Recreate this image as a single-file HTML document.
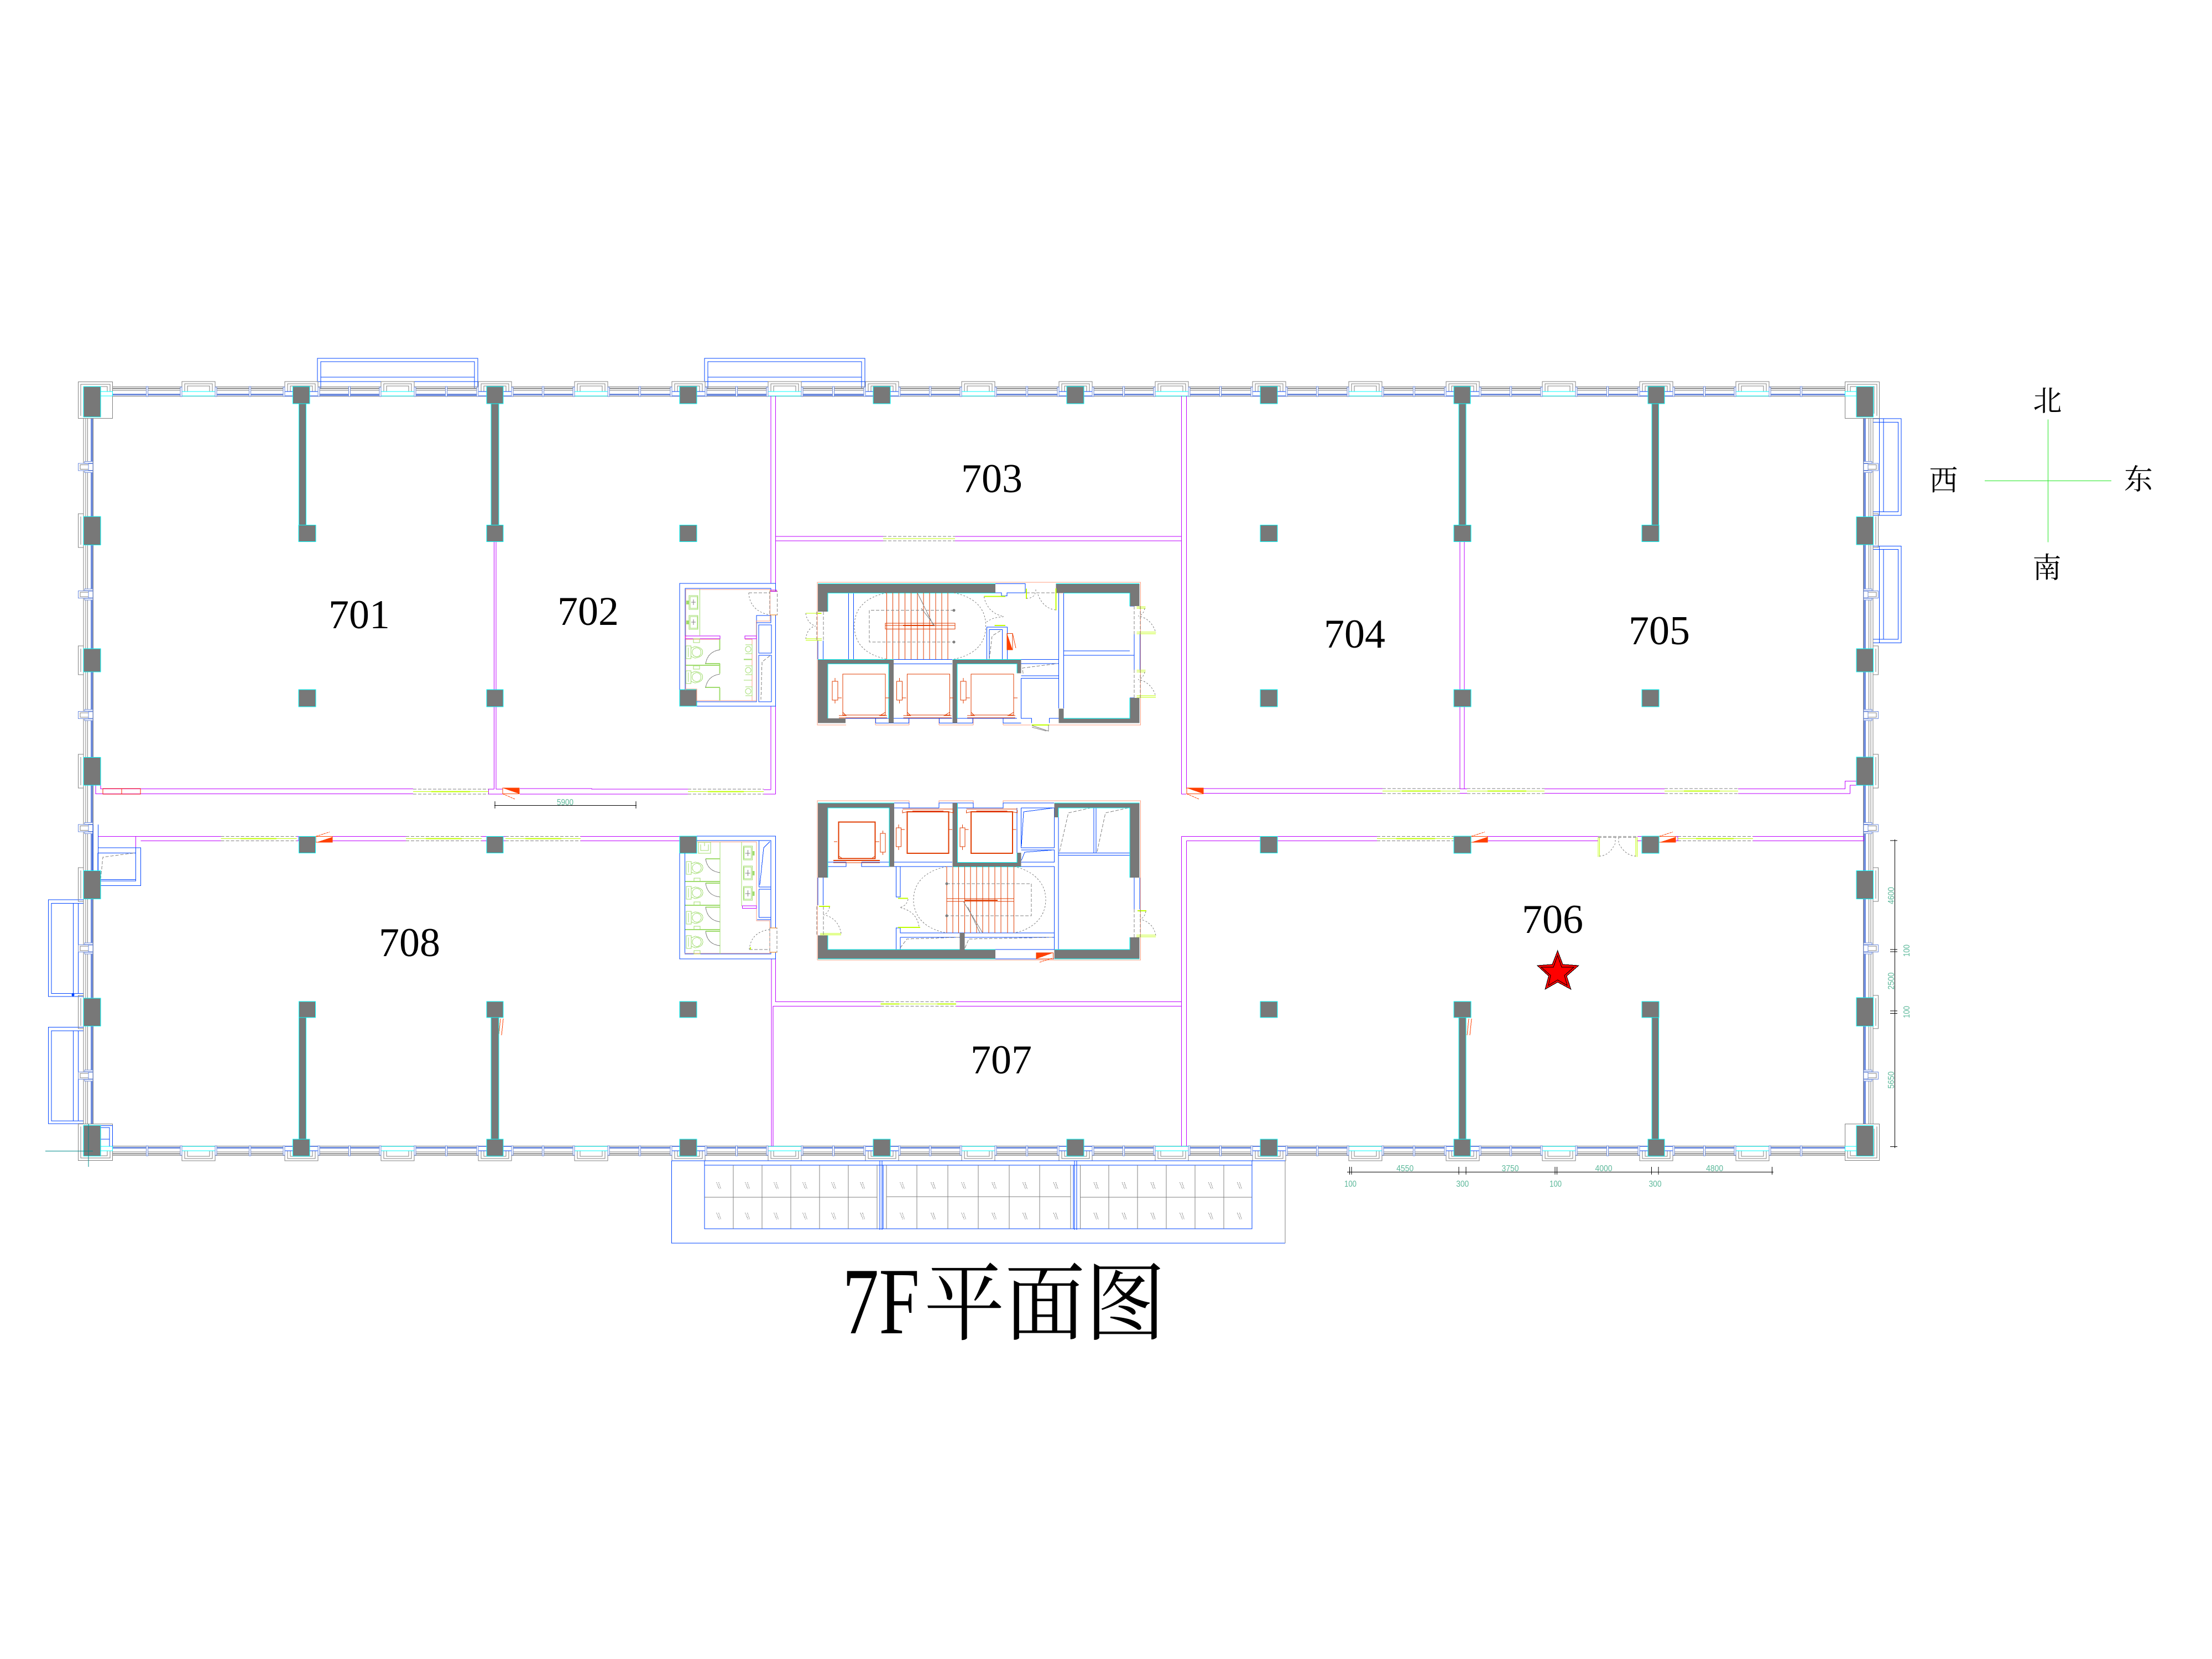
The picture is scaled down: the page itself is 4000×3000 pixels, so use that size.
<!DOCTYPE html>
<html lang="zh"><head><meta charset="utf-8"><title>7F平面图</title>
<style>
html,body{margin:0;padding:0;background:#fff}
svg{display:block;shape-rendering:crispEdges}
.g{stroke:#808080;fill:none;stroke-width:1}
.gf{stroke:#808080;fill:#fff;stroke-width:1}
.b{stroke:#0044ff;fill:none;stroke-width:1}
.bf{stroke:#0044ff;fill:#fff;stroke-width:1}
.t{stroke:#0044ff;fill:none;stroke-width:1}
.m{stroke:#bf00ff;fill:none;stroke-width:1}
.s{stroke:#ff9f80;fill:none;stroke-width:1}
.o{stroke:#e03c00;fill:none;stroke-width:1}
.ot{stroke:#e03c00;fill:none;stroke-width:1}
.l{stroke:#bfff00;fill:none;stroke-width:1}
.lt{stroke:#bfff00;fill:none;stroke-width:2}
.p{stroke:#a0dc6e;fill:none;stroke-width:1}
.pt{stroke:#a0dc6e;fill:none;stroke-width:2}
.d{stroke:#808080;fill:none;stroke-width:1;stroke-dasharray:6 3}
.dd{stroke:#808080;fill:none;stroke-width:1;stroke-dasharray:3 3}
.w{fill:#787878;stroke:#00ffff;stroke-width:1}
.n{fill:#787878;stroke:none}
.c{fill:#fff;stroke:#00ffff;stroke-width:1}
.k{stroke:#000;stroke-width:1;fill:none}
.th{stroke-width:2}
.lb{font-family:"Liberation Serif","Noto Serif CJK SC",serif;font-size:74px;fill:#000}
.cj{font-family:"Liberation Serif","Noto Serif CJK SC",serif;font-size:52px;fill:#000;text-anchor:middle}
.dm{font-family:"Liberation Sans",sans-serif;font-size:16px;fill:#5cb89a;text-anchor:middle}
</style></head><body>
<svg xmlns="http://www.w3.org/2000/svg" width="4000" height="3000" viewBox="0 0 4000 3000">
<defs>
<g id="mu"><rect x="-1.5" y="699" width="3" height="18" fill="#fff" stroke="#6f8cdc" stroke-width="1"/></g>
<g id="pm"><rect x="-30" y="690" width="60" height="26" class="gf"/><path class="g" d="M-25 708V694H25V708M-20 708V698H20V708"/><rect x="-30" y="708" width="60" height="8" class="c"/><rect x="-33" y="700" width="3" height="17" fill="#fff" stroke="#6f8cdc" stroke-width="1"/><rect x="30" y="700" width="3" height="17" fill="#fff" stroke="#6f8cdc" stroke-width="1"/></g>
<g id="pc"><rect x="-30" y="690" width="60" height="26" class="gf"/><path class="g" d="M-25 708V694H25V708M-20 708V698H20V708"/><rect x="-30" y="708" width="60" height="8" class="bf"/><rect x="-33" y="700" width="3" height="17" fill="#fff" stroke="#6f8cdc" stroke-width="1"/><rect x="30" y="700" width="3" height="17" fill="#fff" stroke="#6f8cdc" stroke-width="1"/></g>
<g id="hband">
<path class="g" d="M204 699.5H3336M204 706H3336M204 716.5H3336"/>
<path class="g th" d="M204 702.5H3336"/>
<path d="M204 713.5H3336" stroke="#6f8cdc" stroke-width="3" fill="none"/>
<use href="#mu" x="266"/><use href="#mu" x="452"/><use href="#mu" x="632"/><use href="#mu" x="807"/><use href="#mu" x="982"/><use href="#mu" x="1157"/><use href="#mu" x="1332"/><use href="#mu" x="1507"/><use href="#mu" x="1682"/><use href="#mu" x="1857"/><use href="#mu" x="2032"/><use href="#mu" x="2207"/><use href="#mu" x="2382"/><use href="#mu" x="2557"/><use href="#mu" x="2732"/><use href="#mu" x="2907"/><use href="#mu" x="3082"/><use href="#mu" x="3257"/>
<use href="#pm" x="359"/><use href="#pc" x="545"/><use href="#pm" x="719"/><use href="#pc" x="895"/><use href="#pm" x="1069"/><use href="#pc" x="1245"/><use href="#pm" x="1419"/><use href="#pc" x="1595"/><use href="#pm" x="1769"/><use href="#pc" x="1945"/><use href="#pm" x="2119"/><use href="#pc" x="2295"/><use href="#pm" x="2469"/><use href="#pc" x="2645"/><use href="#pm" x="2819"/><use href="#pc" x="2995"/><use href="#pm" x="3169"/>
</g>
<g id="sm"><rect x="141.5" y="-6.5" width="26.5" height="13" fill="#fff" stroke="#6f8cdc" stroke-width="1"/><rect x="145" y="-4" width="15" height="8" class="g"/><rect x="160" y="-6" width="8" height="12" fill="#fff" stroke="#6f8cdc" stroke-width="1"/><rect x="153" y="-10" width="15" height="3" fill="#fff" stroke="#6f8cdc" stroke-width="1"/><rect x="153" y="7" width="15" height="3" fill="#fff" stroke="#6f8cdc" stroke-width="1"/></g>
<g id="vband">
<path class="g" d="M151 756V2035M155 756V2035M158.6 756V2035M168.5 756V2035"/>
<path d="M166 756V2035" stroke="#6f8cdc" stroke-width="3.6" fill="none"/>
<use href="#sm" y="844.5"/><use href="#sm" y="1075"/><use href="#sm" y="1293"/><use href="#sm" y="1497.5"/><use href="#sm" y="1715"/><use href="#sm" y="1945"/>
<path class="g" d="M151 929H141.5V990H151M146 934V985M151 1168H141.5V1220H151M146 1173V1215M151 1364H141.5V1425H151M146 1369V1420M151 1569H141.5V1630H151M146 1574V1625M151 1800H141.5V1860H151M146 1805V1855"/>
</g>
<g id="corner"><rect x="141.5" y="690.5" width="62" height="66" class="gf"/><path class="g" d="M146 752V695H199V708M151 748V699H194V708"/><rect x="182" y="708" width="21.5" height="8" class="c"/></g>
<g id="wedgeU"><rect x="0" y="0" width="30" height="10.5" fill="#fff" stroke="#ff4000" stroke-width="1"/><polygon points="0,11 30,1 30,11" fill="#ff4000"/><path d="M0 0L25-8" stroke="#ff4000" stroke-width="1" stroke-dasharray="4 1" fill="none"/></g>
<g id="wedgeD"><rect x="0" y="0" width="30" height="10.5" fill="#fff" stroke="#ff4000" stroke-width="1"/><polygon points="0,0 30,0 30,10.5" fill="#ff4000"/><path d="M0 10.5L22 20" stroke="#ff4000" stroke-width="1" stroke-dasharray="4 1" fill="none"/></g>
<g id="elT">
<rect x="1524" y="1219" width="77" height="74" class="o"/><path class="o" d="M1517 1298H1604M1517 1294H1530L1524 1288M1604 1294H1591L1601 1288"/><rect x="1505" y="1232" width="10" height="34" class="ot"/><path class="o" d="M1510 1226V1232M1510 1266V1272M1515 1262H1522M1601 1262H1608"/>
</g>
<g id="elB">
<rect x="1640.5" y="1468" width="75" height="75" class="o th"/><path class="o" d="M1632 1463H1724M1640 1468L1632 1470V1465M1715 1468L1724 1470V1465"/><path class="o th" d="M1650 1467H1706"/><rect x="1620.7" y="1497" width="9" height="34" class="ot"/><path class="o" d="M1625 1491V1497M1625 1531V1537M1630 1500H1636M1716 1500H1722"/>
</g>
<g id="toi"><rect x="0" y="0" width="9" height="23" class="p"/><path class="p" d="M4 3V20M9 4L16 1Q30 3 30 11Q30 20 16 22L9 19Z"/><ellipse cx="19" cy="11.5" rx="8" ry="8" class="p"/></g>
<g id="sink"><rect x="0" y="0" width="16" height="25" class="p"/><rect x="2" y="2" width="13" height="21" class="p"/><path class="g" d="M4 12H12M8 7V17"/><rect x="-5" y="9" width="5" height="7" fill="#a0dc6e"/></g>
<g id="sinkR"><rect x="0" y="0" width="16" height="25" class="p"/><rect x="1" y="2" width="13" height="21" class="p"/><path class="g" d="M3 13H12M8 7V18"/><rect x="16" y="9" width="4" height="8" fill="#a0dc6e"/></g>
<g id="uri"><circle cx="0" cy="0" r="5" class="p"/><path class="p" d="M-5-8H7V8H-5"/></g>
<g id="hm"><path stroke="#808080" stroke-width="1" fill="none" d="M-3-6L2 6M1-6L5 6" stroke-dasharray="2 1"/></g>
</defs>
<rect width="4000" height="3000" fill="#fff"/>

<!-- balconies -->
<g>
<rect x="574" y="648" width="290" height="68" class="b"/><path class="b" d="M580 703V654H858V703M580 682H858M574 690H864"/>
<rect x="1274" y="648" width="290" height="68" class="b"/><path class="b" d="M1280 703V654H1558V703M1280 682H1558M1274 690H1564"/>
<path class="b" d="M3387 757H3438V932H3387M3387 763.5H3432.6V925.5H3387M3398.6 757V932M3406 757V925.5"/>
<path class="b" d="M3387 987.6H3438V1162.6H3387M3387 993.4H3432.6V1156H3387M3398.6 987.6V1162.6M3406 993.4V1156"/>
<path class="b" d="M151 1627H87.5V1802H151M151 1633.6H93V1796.5H151M132.6 1633.6V1796.5M141.5 1633.6V1796.5"/>
<path class="b" d="M151 1857.6H87.5V2032H151M151 1864H93V2026.8H151M132.6 1864V2026.8M141.5 1864V2026.8"/>
<circle cx="132" cy="1799" r="2.5" fill="#0044ff" stroke="none"/>
</g>

<!-- perimeter bands -->
<use href="#vband"/>
<use href="#vband" transform="matrix(-1 0 0 1 3538 0)"/>
<use href="#hband"/>
<use href="#hband" transform="matrix(1 0 0 -1 0 2789)"/>
<use href="#corner"/>
<use href="#corner" transform="matrix(-1 0 0 1 3540 0)"/>
<use href="#corner" transform="matrix(1 0 0 -1 0 2789)"/>
<use href="#corner" transform="matrix(-1 0 0 -1 3540 2789)"/>

<!-- corridor & room walls -->
<path class="m" d="M182 1420V1426.5H747M173 1420V1435.7H747M883.6 1436V1427H893.5M883.6 1436H909M897 1427H909M940 1426H1070V1427H1244M940 1436H1244M1381 1428H1394M1381 1436H1402.6"/>
<path class="m" d="M893.5 979V1247M897 979V1247M893.5 1278V1427M897 1278V1427"/>
<path class="m" d="M1394 716V1055M1402.6 716V1055M1394 1277V1428M1402.6 1277V1436"/>
<path class="m" d="M2136.6 716V1436M2145.5 716V1426M2136.6 1436H2145M2145.5 1426H2500M2145.5 1434.7H2500M2640 1426.5H2653M2640 1434.7H2653M2793 1426.5H3010M2793 1434.7H3010M3143 1426.6H3336.7V1412.4H3357M3143 1435H3345.7V1420H3357"/>
<path class="m" d="M2640 979V1427M2648 979V1427"/>
<path class="m" d="M177.7 1512.5H399.5M254.5 1520.7H399.5M245.5 1512.5V1533M536.6 1512.5H540M536.6 1520.7H540V1512.5M600 1512.5H734M600 1520.7H734M871 1512.5H880M871 1520.7H880M910 1512.5H914M910 1520.7H914M1050 1512.5H1229M1050 1520.7H1229"/>
<path class="m" d="M1402.6 1734V1811.3H1592.6M1395 1734V2073M1398 1819.3V2073M1398 1819.3H1592.6M1729 1811.3H2136.6M1729 1819.3H2136.6M2136.6 1512.7V2073M2145.5 1520.5V2073M2136.6 1512.7H2490M2145.5 1520.5H2490M2660 1512.3H2890M2660 1520.3H2890M2961 1512.3H2969M2961 1520.3H2969M3030 1512.3H3034V1520.3H3030M3170 1512.3H3370V1520.3H3170"/>
<path class="m" d="M1402.6 970H1597M1402.6 978H1597M1727 970H2136.6M1727 978H2136.6"/>
<rect x="186" y="1426" width="68" height="10" fill="none" stroke="#ff2000" stroke-width="1"/><path d="M220 1426V1436" stroke="#ff2000" stroke-width="1"/>

<!-- sliding doors -->
<g>
<path class="d" d="M747 1427H883.6M747 1436H883.6M1244 1427H1381M1244 1436H1381M2500 1426H2640M2500 1435H2640M2653 1426H2793M2653 1435H2793M3010 1426H3143M3010 1435H3143M399.5 1512.5H536.6M399.5 1520.7H536.6M734 1512.5H871M734 1520.7H871M914 1512.5H1050M914 1520.7H1050M2490 1512.3H2629M2490 1520.3H2629M3034 1512.3H3170M3034 1520.3H3170M1592.6 1811.3H1729M1592.6 1819.3H1729M1597 970H1727M1597 978H1727"/>
<path class="l" d="M747 1431.5H883.6M1244 1431.5H1381M2500 1430.5H2640M2653 1430.5H2793M3010 1430.5H3143M399.5 1516.5H536.6M734 1516.5H871M914 1516.5H1050M2490 1516.3H2629M3034 1516.3H3170M1592.6 1815.3H1729M1597 974H1727"/>
<path class="lt" d="M780 1431.5H850M1280 1431.5H1345M2535 1430.5H2605M2690 1430.5H2760M3045 1430.5H3110M435 1516.5H500M770 1516.5H835M950 1516.5H1015M2525 1516.3H2595M3067 1516.3H3135M1592.6 1815.3H1626M1695 1815.3H1729"/>
</g>

<!-- double door 706 -->
<path class="l" d="M2890 1514V1549.5M2892.7 1514V1549.5M2958 1514V1549.5M2960.7 1514V1549.5"/>
<path class="d" d="M2890 1512.3H2961M2890 1514.5H2961"/>
<path class="dd" d="M2892 1548Q2910 1548 2921 1525V1514M2958 1548Q2940 1548 2927 1525V1514"/>

<!-- wedges -->
<use href="#wedgeD" x="909" y="1425"/>
<use href="#wedgeD" x="2146" y="1425"/>
<use href="#wedgeU" x="571" y="1512.5"/>
<use href="#wedgeU" x="2660" y="1512.5"/>
<use href="#wedgeU" x="3000" y="1512.5"/>
<path d="M905 1842l-3 30M910 1842l-3 30M2656 1842l-3 30M2661 1842l-3 30" stroke="#ff4000" stroke-width="1" fill="none"/>

<!-- vent 708 / SW corner -->
<path class="b" d="M168 1491V1574M177.7 1491V1574M177.7 1512.5V1533H254.5V1601.6H182"/>
<path class="b" d="M182 1593H245.5V1533M177 1574V1542.5H245.5M182 1590.5H245.5"/>
<path class="d" d="M182 1590L186 1550L242 1542.5"/>
<path class="b" d="M182 2035.5H203.6V2073M182 2039H198V2073M182 2060H198"/>

<!-- columns -->
<g class="w">
<rect x="540.3" y="730" width="13.2" height="220"/><rect x="888" y="730" width="14" height="220"/>
<rect x="2638" y="730" width="13" height="220"/><rect x="2987" y="730" width="12.5" height="220"/>
<rect x="540.6" y="1840" width="13" height="220"/><rect x="888" y="1840" width="14" height="220"/>
<rect x="2638" y="1840" width="13" height="220"/><rect x="2987" y="1840" width="12.5" height="220"/>
<rect x="151" y="699" width="31" height="55"/><rect x="151" y="934" width="31" height="51.5"/><rect x="151" y="1173" width="31" height="42"/><rect x="151" y="1369.5" width="31" height="50.5"/><rect x="151" y="1574.5" width="31" height="51"/><rect x="151" y="1805" width="31" height="50.5"/><rect x="151" y="2035" width="31" height="55.5"/>
<rect x="3357" y="699" width="30.5" height="55"/><rect x="3357" y="934.5" width="30.5" height="50.5"/><rect x="3357" y="1173" width="30.5" height="42"/><rect x="3357" y="1369" width="30.5" height="51"/><rect x="3357" y="1574.5" width="30.5" height="51"/><rect x="3357" y="1804" width="30.5" height="51.5"/><rect x="3357" y="2035.5" width="30.5" height="55"/>
<rect x="529.5" y="699" width="30.5" height="31"/><rect x="880" y="699" width="30" height="31"/><rect x="1229" y="699" width="31" height="31"/><rect x="1579" y="699" width="31" height="31"/><rect x="1929" y="699" width="31" height="31"/><rect x="2279" y="699" width="31" height="31"/><rect x="2629" y="699" width="30" height="31"/><rect x="2980" y="699" width="30" height="31"/>
<rect x="529.5" y="2060" width="30.5" height="30.7"/><rect x="880" y="2060" width="30" height="30.7"/><rect x="1229" y="2060" width="31" height="30.7"/><rect x="1579" y="2060" width="31" height="30.7"/><rect x="1929" y="2060" width="31" height="30.7"/><rect x="2279" y="2060" width="31" height="30.7"/><rect x="2629" y="2060" width="30" height="30.7"/><rect x="2980" y="2060" width="30" height="30.7"/>
<rect x="540" y="949.5" width="31" height="30"/><rect x="880" y="949.5" width="30" height="30"/><rect x="1229" y="949.5" width="31" height="30"/><rect x="2279" y="949.5" width="31" height="30"/><rect x="2629" y="949.5" width="31" height="30"/><rect x="2969" y="949.5" width="31" height="30"/>
<rect x="540" y="1247" width="31" height="31"/><rect x="880" y="1247" width="30" height="31"/><rect x="1229" y="1247" width="31" height="30"/><rect x="2279" y="1247" width="31" height="31"/><rect x="2629" y="1247" width="31" height="31"/><rect x="2969" y="1247" width="31" height="31"/>
<rect x="540.5" y="1512.5" width="30" height="30"/><rect x="880" y="1512.5" width="30" height="30"/><rect x="1229" y="1512" width="31" height="31"/><rect x="2279" y="1512.5" width="31" height="30"/><rect x="2629" y="1512" width="31" height="31"/><rect x="2969" y="1512" width="31" height="31"/>
<rect x="540.5" y="1811" width="30" height="29"/><rect x="880" y="1811" width="30" height="29"/><rect x="1229" y="1811" width="31" height="29"/><rect x="2279" y="1811" width="31" height="29"/><rect x="2629" y="1811" width="31" height="29"/><rect x="2969" y="1811" width="31" height="29"/>
</g>

<!-- top toilet block -->
<path class="b" d="M1229 1247V1055H1402.6V1069M1402.6 1112V1277H1260"/>
<path class="b" d="M1239 1247V1064H1394V1069M1394 1113H1368V1126M1394 1113V1126H1368V1269H1260"/>
<rect x="1372" y="1130" width="23" height="51" class="b"/><rect x="1372" y="1185" width="23" height="84" class="b"/>
<path class="d" d="M1392 1186L1378 1197L1376 1265"/>
<path class="s" d="M1240 1248V1066H1392.7V1123H1367.7V1267H1260M1240 1156H1302M1347 1156H1360V1267M1239 1246H1260V1267"/>
<path class="p" d="M1265.7 1065V1149M1240 1203H1302"/>
<path class="pt" d="M1240 1203H1302M1301.7 1155V1175M1301.7 1200V1218M1301.7 1244V1267M1275 1200H1302M1275 1243H1302"/>
<rect x="1239" y="1150" width="63" height="5" class="m"/><rect x="1347" y="1150" width="21" height="5" class="m"/>
<use href="#sink" x="1246" y="1077"/><use href="#sink" x="1246" y="1113"/>
<use href="#toi" x="1240.7" y="1168"/><use href="#toi" x="1240.7" y="1213"/>
<rect x="1254" y="1155" width="11" height="7" class="p"/><rect x="1254" y="1204" width="11" height="6" class="p"/>
<path class="g" d="M1276 1200Q1280 1178 1302 1175M1276 1243Q1280 1222 1302 1219"/>
<use href="#uri" x="1353" y="1174"/><use href="#uri" x="1353" y="1212"/><use href="#uri" x="1353" y="1250"/>
<path class="pt" d="M1345 1192.7H1360"/><path class="p" d="M1345 1230H1360"/>
<path class="d" d="M1392 1069H1405.6V1112H1392V1069M1354 1072H1392"/>
<path class="dd" d="M1354 1072Q1356 1105 1392 1112"/>
<path stroke="#e87800" stroke-width="1" fill="none" d="M1392 1069H1405.6M1392 1112H1405.6"/>
<rect x="1394" y="1067" width="10" height="2.5" class="m"/>

<!-- lower toilet block -->
<path class="b" d="M1260 1512H1402.6V1678M1402.6 1722V1734H1229V1543"/>
<path class="b" d="M1260 1520H1394V1663H1369M1394 1663V1678M1394 1722V1725H1238.7V1543"/>
<rect x="1372.6" y="1520" width="21.4" height="84" class="b"/><rect x="1372.6" y="1608" width="21.4" height="51" class="b"/>
<path class="b" d="M1392 1522L1381 1533L1374 1600"/>
<path class="s" d="M1260 1522.7H1368V1665H1392V1724H1238"/>
<path class="p" d="M1341 1522.7V1638H1368M1302 1522.7V1725"/>
<path class="pt" d="M1239 1594H1302M1239 1637H1302M1239 1681H1302M1276 1553H1302M1276 1597H1302M1276 1640.7H1302M1276 1684H1302"/>
<rect x="1342.6" y="1638" width="25.4" height="4.7" class="m"/>
<use href="#sinkR" x="1344.5" y="1530"/><use href="#sinkR" x="1344.5" y="1566"/><use href="#sinkR" x="1344.5" y="1603"/>
<rect x="1263" y="1523" width="22" height="20" class="p"/><path class="p" d="M1267 1527V1538H1281V1527M1274 1524V1530"/>
<use href="#toi" x="1241" y="1558"/><use href="#toi" x="1241" y="1603"/><use href="#toi" x="1241" y="1648"/><use href="#toi" x="1241" y="1692"/>
<rect x="1255" y="1588" width="11" height="6" class="p"/><rect x="1255" y="1631" width="11" height="6" class="p"/><rect x="1255" y="1675" width="11" height="6" class="p"/><rect x="1255" y="1719" width="11" height="6" class="p"/>
<path class="g" d="M1276 1553Q1279 1575 1302 1578M1276 1597Q1279 1620 1302 1622M1276 1640Q1279 1664 1302 1667M1276 1684Q1279 1708 1302 1710"/>
<path class="d" d="M1392 1678H1405V1722H1392V1678M1355 1717H1392"/>
<path class="dd" d="M1392 1681Q1358 1685 1355 1717"/>
<path stroke="#e87800" stroke-width="1" fill="none" d="M1392 1678H1405M1392 1722H1405"/>
<path class="lt" d="M1357 1717V1713"/>

<!-- core top -->
<rect x="1478" y="1053" width="584.7" height="258" class="s"/>
<path fill="#fff" stroke="none" d="M1530 1305H1583V1314H1530ZM1644 1305H1698V1314H1644ZM1760 1305H1814V1314H1760ZM1864 1305H1897V1314H1864Z"/>
<path class="s" d="M1583 1299V1311M1644 1299V1311M1698 1299V1311M1760 1299V1311M1814 1299V1311"/>
<path class="b" d="M1800 1055.6H1854V1072H1821V1077.5H1811V1072H1800M1534.6 1072V1192.6M1543.5 1072V1192.6M1497 1072H1800M1497 1192.6H1722M1616 1200.4H1722M1914.7 1072V1281M1923.6 1072V1281M1923.6 1177H2043M2051 1147V1211M2061.4 1147V1211M2043 1096H2051M2043 1262H2051"/>
<path class="t" d="M1923.6 1185H2051"/>
<path class="b" d="M1479 1158.6V1192M1488.7 1158.6V1192M1784.6 1192.6V1134H1821.6V1192.6M1789 1192.6V1138.7H1812.6V1192.6M1846.5 1192.6H1914.7M1846.5 1200H1914.7V1222H1846.5M1846.5 1226.6H1914.7V1281M1846.5 1226.6V1298.8H1865.6V1307.7M1897.5 1307.7V1298.8H1914.7M1529 1298.8H1607M1583.7 1298.8V1307.7H1643.6V1298.8M1616 1298.8H1722M1698.5 1298.8V1307.7H1759V1298.8M1731 1298.8H1839M1814 1298.8V1307.7H1846.5"/>
<path class="d" d="M1850 1218L1849 1208L1912 1200"/>
<path class="d" d="M1789 1192L1794 1150L1810 1140"/>
<g class="n">
<path d="M1479 1055.6H1800V1072.3H1497V1106H1479Z"/><path d="M1909.6 1055.6H2060.7V1096H2043V1072.3H1909.6Z"/>
<path d="M1479 1192.6H1616V1307.7H1607V1200.4H1497V1298.8H1529V1307.7H1479Z"/>
<path d="M1722.7 1192.6H1846.5V1217.7H1839V1200.4H1731V1307.7H1722.7Z"/>
<path d="M2043 1262H2060.7V1307.7H1914.7V1281.5H1923.6V1298.8H2043Z"/>
</g>
<path fill="none" stroke="#00ffff" stroke-width="1" d="M1497 1106V1072.3H1800M2043 1096V1072.3H1923.6M1497 1298.8V1200.4H1607V1298.8M1731 1298.8V1200.4H1839V1217.7M1479 1192.6H1616M1722.7 1192.6H1846.5M1923.6 1298.8H2043V1262M1479 1055.6H1800M1909.6 1055.6H2060.7"/>
<use href="#elT"/><use href="#elT" x="116.5"/><use href="#elT" x="232"/>
<path class="ot" d="M1603.5 1072V1192M1614.6 1072V1192M1625.6 1072V1192M1636.7 1072V1192M1647.7 1072V1192M1658.8 1072V1192M1669.8 1072V1192M1681 1072V1192M1692 1072V1192M1703 1072V1192M1714 1072V1192"/>
<rect x="1601" y="1127" width="126" height="10.7" fill="#fff" class="ot"/><path class="o th" d="M1633 1131H1690"/><path class="o" d="M1601 1131H1727"/>
<path class="dd" d="M1603.5 1072C1565 1080 1545 1100 1545 1132C1545 1164 1565 1184 1603.5 1192M1725 1072C1763 1080 1782.7 1100 1782.7 1132C1782.7 1164 1763 1184 1725 1192"/>
<path class="d" d="M1725 1103.7H1572V1161H1725"/><circle cx="1725" cy="1103.7" r="2.5" fill="#808080"/><circle cx="1725" cy="1161" r="2.5" fill="#808080"/>
<path class="g" d="M1659 1072L1688 1131M1666 1100L1690 1131"/>
<path class="lt" d="M1479 1109H1485M1779.5 1078.6H1818M1798.6 1131H1818"/>
<path class="l" d="M1457 1109H1486M1457 1155H1486M1457 1158H1486"/>
<path class="d" d="M1477 1106V1158.6M1489 1106V1158.6"/>
<path class="dd" d="M1457 1109Q1460 1128 1475 1132Q1460 1135 1457 1155"/>
<path class="dd" d="M1779.5 1079Q1785 1108 1815 1115L1800 1117Q1785 1122 1782 1127"/>
<path class="lt" d="M1856 1064.5V1082.8M1909.6 1064V1103.7"/>
<path class="d" d="M1856 1072H1909.6"/><path class="dd" d="M1856 1082Q1873 1082 1873 1066M1909 1103Q1885 1100 1876 1072"/>
<path class="lt" d="M1865.6 1311H1897.5"/><path class="g" d="M1866 1312L1896 1322V1311M1866 1315L1892 1322"/>
<path class="o" d="M1821 1145.5H1831V1175H1821Z"/><polygon points="1821,1145.5 1831,1175 1821,1175" fill="#ff4000"/><path d="M1831 1145L1837 1172" stroke="#ff4000" stroke-width="1" fill="none"/>
<path class="l" d="M2055.6 1097.5H2071.6M2055.6 1100H2071.6M2055.6 1143H2090M2055.6 1146H2090M2055.6 1212H2071.6M2055.6 1215H2071.6M2055.6 1258H2090M2055.6 1261H2090"/>
<path class="d" d="M2051 1096V1147M2062 1096V1147M2051 1211V1262M2062 1211V1262"/>
<path class="dd" d="M2070 1100Q2068 1112 2058 1114Q2082 1118 2090 1144M2070 1215Q2068 1226 2058 1229Q2082 1233 2090 1259"/>

<!-- core bottom -->
<path class="s" d="M1478 1736V1448H1644V1461M1698 1461V1448H1760V1461M1814 1461V1448H2062.7V1736H1478"/>
<path class="b" d="M1617 1452H1644V1461M1617 1461H1698M1698 1461V1452H1760V1461M1731 1461H1814V1452H1906M1839 1461V1542M1846.5 1461H1906.4V1533H1846.5V1461M1846.5 1537H1906.4V1559H1846.5M1497 1559H1530V1567H1497M1558 1559H1608M1558 1559V1567H1608M1617 1559H1722M1617 1567H1722M1846.5 1559H1906.4M1846.5 1567H1906.4V1717H1800M1906.4 1478V1533M1914 1542.3H2043M1914 1546.7H2043M1914 1478V1717M1978 1461V1542.3M1982 1461V1542.3"/>
<path class="b" d="M1479 1587V1637M1488.7 1587V1637M1620.7 1567V1622H1628V1567M1620.7 1717V1678H1628V1687H1906M1628 1695H1735.5M1744.4 1695H1906M1628 1717V1695M1800 1734H1906M2051 1587V1644M2061 1587V1644"/>
<path class="d" d="M1628 1714L1640 1698L1735 1695M1745 1714L1752 1698L1905 1695M1916 1540L1932 1470L1972 1461M1984 1540L1999 1470L2040 1461"/>
<path class="b" d="M1847 1530L1851 1468L1905 1461M1847 1556L1853 1541L1905 1537"/>
<g class="n">
<path d="M1479 1452H1617V1567.3H1608V1461H1497V1587H1479Z"/>
<path d="M1722.7 1452H1731.6V1559.3H1839V1542H1846.5V1567.3H1722.7Z"/>
<path d="M1906.4 1452H2060.7V1587H2043V1461H1914V1478H1906.4Z"/>
<path d="M1479 1691.7H1497V1717H1735.5V1687H1744.4V1717H1800V1734H1479Z"/>
<path d="M1906.4 1717H2043V1695H2060.7V1734H1906.4Z"/>
</g>
<path fill="none" stroke="#00ffff" stroke-width="1" d="M1497 1587V1461H1608V1567M1731.6 1452V1559.3H1839V1542M2043 1587V1461H1914V1478M1497 1691.7V1717H1735.5M1744.4 1717H1800M1906.4 1717H2043V1695M1479 1452H1617M1906.4 1452H2060.7M1479 1734H1800M1906.4 1734H2060.7M1722.7 1567.3H1846.5"/>
<rect x="1516.7" y="1486.7" width="66" height="66" class="o th"/>
<path class="o th" d="M1507 1556H1591"/>
<path class="o" d="M1507 1560H1591M1516.7 1548L1524 1553M1582.7 1548L1575 1553"/>
<rect x="1592" y="1507" width="9" height="34" class="ot"/><path class="o" d="M1596.5 1502V1507M1596.5 1541V1546M1583 1522H1590M1508 1522H1514"/>
<use href="#elB"/><use href="#elB" x="115.5"/>
<path class="ot" d="M1712 1567V1687M1722.8 1567V1687M1733.6 1567V1687M1744.4 1567V1687M1755 1567V1687M1766 1567V1687M1777 1567V1687M1788 1567V1687M1799 1567V1687M1810 1567V1687M1822 1567V1687M1833.7 1567V1687"/>
<rect x="1712" y="1625" width="121.7" height="5" fill="#fff" class="ot"/><path class="o th" d="M1744 1628H1804"/>
<path class="dd" d="M1712 1567C1672 1575 1652 1597 1652 1627C1652 1657 1672 1680 1712 1687M1833.7 1567C1870 1575 1891 1597 1891 1627C1891 1657 1870 1680 1833.7 1687"/>
<path class="d" d="M1712 1598H1865V1656H1712"/><circle cx="1712" cy="1598" r="2.5" fill="#808080"/><circle cx="1712" cy="1656" r="2.5" fill="#808080"/>
<path class="g" d="M1742 1630L1777 1687M1750 1640L1772 1687"/>
<path class="lt" d="M1624 1624.7H1642M1624 1677H1664"/>
<path class="dd" d="M1642 1626Q1640 1638 1627 1641Q1658 1648 1662 1676"/>
<path class="lt" d="M1481 1639H1501"/><path class="l" d="M1483 1688H1521M1483 1690.5H1521"/>
<path class="d" d="M1477 1639V1691.7M1489 1639V1691.7"/><path class="dd" d="M1500 1640Q1498 1652 1489 1654Q1516 1660 1521 1688"/>
<path class="lt" d="M2057 1647H2073"/><path class="l" d="M2055 1691H2090M2055 1694H2090"/>
<path class="d" d="M2051 1644V1695M2062 1644V1695"/><path class="dd" d="M2072 1648Q2070 1660 2061 1662Q2086 1668 2090 1692"/>
<path class="ot" d="M1874 1723H1904.5V1734H1874Z"/><polygon points="1874,1734 1904.5,1723 1874,1723" fill="#ff4000"/><path d="M1880 1740L1902 1733" stroke="#ff4000" stroke-width="1" stroke-dasharray="4 1" fill="none"/>

<!-- bottom bike area -->
<path class="b" d="M1214.4 2099V2248H2323.8"/><path d="M2323.8 2099V2248" stroke="#808080" stroke-width="1"/>
<rect x="1274" y="2107" width="990" height="115" class="b"/>
<path class="b" d="M1214.4 2099H2323.8M1274 2099V2107M2264 2099V2107"/>
<path class="g" d="M1326 2107V2222M1378 2107V2222M1430 2107V2222M1482 2107V2222M1534 2107V2222M1586 2107V2222M1603 2107V2222M1658 2107V2222M1714 2107V2222M1769 2107V2222M1825 2107V2222M1880 2107V2222M1936 2107V2222M1953.5 2107V2222M2005 2107V2222M2057 2107V2222M2109 2107V2222M2161 2107V2222M2213 2107V2222"/>
<path class="t" d="M1591 2099V2224M1595 2099V2224M1597 2107V2222M1941 2107V2222M1943 2099V2224M1947 2099V2224"/>
<path class="g" d="M1274 2165H1586M1603 2164H1936M1953.5 2165H2264"/>
<use href="#hm" x="1298.6" y="2144"/><use href="#hm" x="1350.6" y="2144"/><use href="#hm" x="1402.6" y="2144"/><use href="#hm" x="1454.6" y="2144"/><use href="#hm" x="1506.6" y="2144"/><use href="#hm" x="1558.7" y="2144"/><use href="#hm" x="1630.6" y="2144"/><use href="#hm" x="1686.5" y="2144"/><use href="#hm" x="1741.6" y="2144"/><use href="#hm" x="1796.7" y="2144"/><use href="#hm" x="1852.5" y="2144"/><use href="#hm" x="1908" y="2144"/><use href="#hm" x="1981" y="2144"/><use href="#hm" x="2032" y="2144"/><use href="#hm" x="2084" y="2144"/><use href="#hm" x="2136.4" y="2144"/><use href="#hm" x="2188.4" y="2144"/><use href="#hm" x="2240.4" y="2144"/>
<use href="#hm" x="1298.6" y="2199"/><use href="#hm" x="1350.6" y="2199"/><use href="#hm" x="1402.6" y="2199"/><use href="#hm" x="1454.6" y="2199"/><use href="#hm" x="1506.6" y="2199"/><use href="#hm" x="1558.7" y="2199"/><use href="#hm" x="1630.6" y="2199"/><use href="#hm" x="1686.5" y="2199"/><use href="#hm" x="1741.6" y="2199"/><use href="#hm" x="1796.7" y="2199"/><use href="#hm" x="1852.5" y="2199"/><use href="#hm" x="1908" y="2199"/><use href="#hm" x="1981" y="2199"/><use href="#hm" x="2032" y="2199"/><use href="#hm" x="2084" y="2199"/><use href="#hm" x="2136.4" y="2199"/><use href="#hm" x="2188.4" y="2199"/><use href="#hm" x="2240.4" y="2199"/>

<!-- teal cross -->
<path d="M82 2081.5H168M160 2032V2110" stroke="#008b8b" stroke-width="1" fill="none"/>

<!-- dimensions -->
<path class="k" d="M2436 2119.3H3207M2440.6 2110V2124M2444 2110V2124M2638 2110V2124M2651 2110V2124M2812 2110V2124M2815.6 2110V2124M2986.5 2110V2124M2999 2110V2124M3204.6 2110V2124"/>
<g class="dm"><text x="2540.7" y="2118" textLength="31" lengthAdjust="spacingAndGlyphs">4550</text><text x="2731" y="2118" textLength="31" lengthAdjust="spacingAndGlyphs">3750</text><text x="2900" y="2118" textLength="31" lengthAdjust="spacingAndGlyphs">4000</text><text x="3100.6" y="2118" textLength="31" lengthAdjust="spacingAndGlyphs">4800</text><text x="2442" y="2146" textLength="22" lengthAdjust="spacingAndGlyphs">100</text><text x="2644.7" y="2146" textLength="23" lengthAdjust="spacingAndGlyphs">300</text><text x="2813" y="2146" textLength="22" lengthAdjust="spacingAndGlyphs">100</text><text x="2993" y="2146" textLength="23" lengthAdjust="spacingAndGlyphs">300</text></g>
<path class="k" d="M3426.3 1518V2076M3418 1520H3431M3418 1717H3431M3418 1721H3431M3418 1828H3431M3418 1832.5H3431M3418 2073.5H3431"/>
<g class="dm"><text transform="translate(3425 1619.5) rotate(-90)" textLength="31" lengthAdjust="spacingAndGlyphs">4600</text><text transform="translate(3425 1774) rotate(-90)" textLength="31" lengthAdjust="spacingAndGlyphs">2500</text><text transform="translate(3425 1953) rotate(-90)" textLength="31" lengthAdjust="spacingAndGlyphs">5650</text><text transform="translate(3453 1719) rotate(-90)" textLength="22" lengthAdjust="spacingAndGlyphs">100</text><text transform="translate(3453 1830) rotate(-90)" textLength="22" lengthAdjust="spacingAndGlyphs">100</text></g>
<path class="k" d="M894 1456.4H1151M895 1449V1462M1150 1449V1462"/>
<text class="dm" x="1022" y="1456" textLength="30" lengthAdjust="spacingAndGlyphs">5900</text>

<!-- compass -->
<path d="M3589 869.3H3818M3703.6 758.6V980.4" stroke="#22e822" stroke-width="1" fill="none"/>
<text class="cj" x="3702.5" y="743">北</text>
<text class="cj" x="3514.5" y="887">西</text>
<text class="cj" x="3867" y="885">东</text>
<text class="cj" x="3701.5" y="1045">南</text>

<!-- star -->
<polygon points="2816.7,1719 2826,1744 2854.7,1746 2833,1765 2840.7,1789 2816.7,1776 2794,1789 2800.5,1765 2780,1746 2807,1744" fill="#ff0000" stroke="#000" stroke-width="1"/>
<polygon points="2816.7,1728 2824,1749 2846,1749 2829,1764 2834,1782 2816.7,1772 2800,1782 2804,1764 2787,1749 2809,1749" fill="none" stroke="#000" stroke-width="1"/>

<!-- labels -->
<text class="lb" x="594" y="1136">701</text>
<text class="lb" x="1008" y="1130">702</text>
<text class="lb" x="1738" y="890">703</text>
<text class="lb" x="2394" y="1171">704</text>
<text class="lb" x="2945" y="1165">705</text>
<text class="lb" x="2752" y="1687">706</text>
<text class="lb" x="1755" y="1941">707</text>
<text class="lb" x="685" y="1729">708</text>
<text x="1523" y="2411" font-family="'Liberation Serif',serif" font-size="172" fill="#000" textLength="140" lengthAdjust="spacingAndGlyphs">7F</text>
<text x="1671" y="2411" font-family="'Liberation Serif','Noto Serif CJK SC',serif" font-size="155" fill="#000" textLength="437" lengthAdjust="spacingAndGlyphs">平面图</text>
</svg>
</body></html>
